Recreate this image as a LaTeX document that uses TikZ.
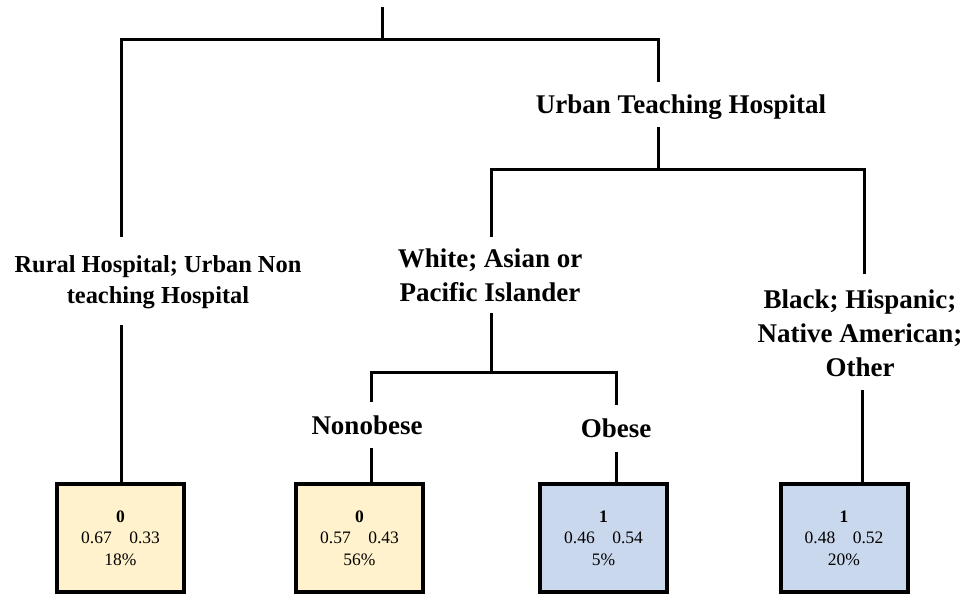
\documentclass[tikz,border=0pt]{standalone}
\usepackage{fontspec}
\setmainfont{Liberation Serif}
\usepackage{xcolor}
\usepackage{tikz}
\usetikzlibrary{positioning}

\definecolor{leafyellow}{HTML}{FFF2CC}
\definecolor{leafblue}{HTML}{CAD8EE}

\begin{document}
\begin{tikzpicture}[x=1pt, y=-1pt,
    edge/.style={line width=3pt},
    splitlabel/.style={font=\bfseries\fontsize{27}{34}\selectfont, align=center, anchor=base, inner sep=0pt},
    leaf/.style={draw, line width=4pt, minimum width=127pt, minimum height=108pt, inner sep=0pt,
        align=center, font=\fontsize{17.5}{21.5}\selectfont},
    leafzero/.style={leaf, fill=leafyellow},
    leafone/.style={leaf, fill=leafblue}]
    \useasboundingbox (0,0) rectangle (968,596);

    % Split labels (base = last line)
    \node[splitlabel] (urban) at (681,114) {Urban Teaching Hospital};
    \node[splitlabel, font=\bfseries\fontsize{24.4}{31}\selectfont] (rural) at (158,303) {Rural Hospital; Urban Non\\teaching Hospital};
    \node[splitlabel] (white) at (490,301) {White; Asian or\\Pacific Islander};
    \node[splitlabel] (black) at (860,376) {Black; Hispanic;\\Native American;\\Other};
    \node[splitlabel] (nonobese) at (367,434) {Nonobese};
    \node[splitlabel] (obese) at (616,437) {Obese};

    % Leaves
    \node[leafzero] (leafA) at (120.5,538) {\textbf{0}\\0.67\quad 0.33\\18\%};
    \node[leafzero] (leafB) at (359.5,538) {\textbf{0}\\0.57\quad 0.43\\56\%};
    \node[leafone] (leafC) at (603.5,538) {\textbf{1}\\0.46\quad 0.54\\5\%};
    \node[leafone] (leafD) at (844,538) {\textbf{1}\\0.48\quad 0.52\\20\%};

    % Junctions and stub ends
    \coordinate (root) at (382,7);
    \coordinate (j1) at (382,40);
    \coordinate (urbanT) at (658,82);
    \coordinate (urbanB) at (658,127);
    \coordinate (j2) at (658,170);
    \coordinate (ruralT) at (121,237);
    \coordinate (ruralB) at (121,325);
    \coordinate (whiteT) at (491,237);
    \coordinate (whiteB) at (491,313);
    \coordinate (j3) at (491,372);
    \coordinate (blackT) at (864,274);
    \coordinate (blackB) at (862,390);
    \coordinate (nonobeseT) at (371,402);
    \coordinate (nonobeseB) at (371,448);
    \coordinate (obeseT) at (616,405);
    \coordinate (obeseB) at (616,452);

    % Branches
    \draw[edge] (root) -- (j1);
    \draw[edge] (ruralT) |- (j1) -| (urbanT);
    \draw[edge] (urbanB) -- (j2);
    \draw[edge] (whiteT) |- (j2) -| (blackT);
    \draw[edge] (whiteB) -- (j3);
    \draw[edge] (nonobeseT) |- (j3) -| (obeseT);

    % Down to the leaves
    \draw[edge] (ruralB) -- (ruralB |- leafA.north);
    \draw[edge] (nonobeseB) -- (nonobeseB |- leafB.north);
    \draw[edge] (obeseB) -- (obeseB |- leafC.north);
    \draw[edge] (blackB) -- (blackB |- leafD.north);
\end{tikzpicture}
\end{document}
